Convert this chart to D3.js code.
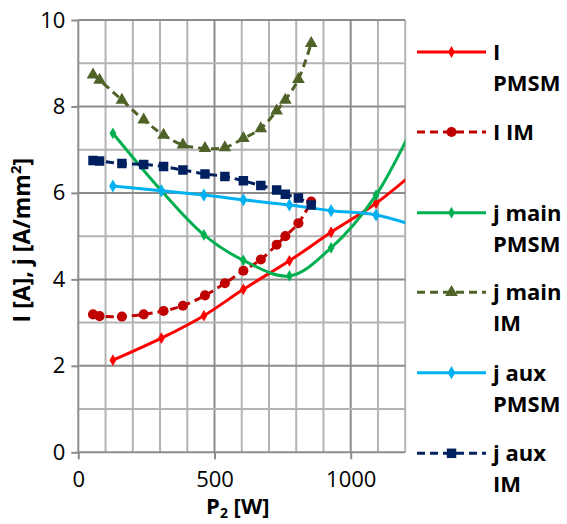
<!DOCTYPE html>
<html>
<head>
<meta charset="utf-8">
<script src="https://cdn.jsdelivr.net/npm/d3@7"></script>
<style>
  html, body { margin: 0; padding: 0; background: #fff; }
  svg { display: block; }
</style>
</head>
<body>
<svg id="chart" width="567" height="524"></svg>
<script>
// Output power P2 [W] at the measured operating points
const pPMSM = [127, 305, 461, 606, 775, 928, 1093, 1260];
const pIM = [54, 78, 160, 240, 313, 384, 465, 538, 606, 670, 728, 760, 808, 855];

// Current I [A]
const iPMSM = [2.13, 2.64, 3.16, 3.77, 4.43, 5.09, 5.76, 6.62];
const iIM = [3.19, 3.15, 3.14, 3.19, 3.27, 3.39, 3.63, 3.91, 4.20, 4.46, 4.80, 5.00, 5.30, 5.80];

// Current density j [A/mm²], main and auxiliary windings
const jMainPMSM = [7.38, 6.05, 5.03, 4.44, 4.08, 4.73, 5.95, 7.95];
const jMainIM = [8.73, 8.61, 8.15, 7.69, 7.34, 7.11, 7.03, 7.05, 7.26, 7.49, 7.90, 8.15, 8.63, 9.46];
const jAuxPMSM = [6.16, 6.05, 5.95, 5.84, 5.72, 5.59, 5.49, 5.19];
const jAuxIM = [6.75, 6.74, 6.68, 6.66, 6.61, 6.53, 6.44, 6.38, 6.28, 6.17, 6.07, 5.97, 5.88, 5.72];

const xTicks = [0, 500, 1000];
const yTicks = [0, 2, 4, 6, 8, 10];

const series = [
  { name: ["I", "PMSM"], x: pPMSM, y: iPMSM, color: "#ff0000", dash: null, marker: "diamond", size: 40 },
  { name: ["I IM"], x: pIM, y: iIM, color: "#c00000", dash: "8,5", marker: "circle", size: 80 },
  { name: ["j main", "PMSM"], x: pPMSM, y: jMainPMSM, color: "#00b050", dash: null, marker: "diamond", size: 40 },
  { name: ["j main", "IM"], x: pIM, y: jMainIM, color: "#4f6228", dash: "8,5", marker: "triangle", size: 70 },
  { name: ["j aux", "PMSM"], x: pPMSM, y: jAuxPMSM, color: "#00b0f0", dash: null, marker: "diamond", size: 50 },
  { name: ["j aux", "IM"], x: pIM, y: jAuxIM, color: "#002060", dash: "8,5", marker: "square", size: 90 }
];

const svg = d3.select("#chart");
const plot = { left: 78.3, right: 405.2, top: 20, bottom: 452.3 };

const x = d3.scaleLinear().domain([0, 1200]).range([plot.left, plot.right]);
const y = d3.scaleLinear().domain([0, 10]).range([plot.bottom, plot.top]);

const symbolTypes = {
  diamond: d3.symbolDiamond,
  circle: d3.symbolCircle,
  triangle: d3.symbolTriangle,
  square: d3.symbolSquare
};

// Gridlines: minor every 100 W / 1 unit, major every 500 W / 2 units
const grid = svg.append("g");
d3.range(100, 1201, 100).forEach(v => {
  grid.append("line")
    .attr("x1", x(v)).attr("x2", x(v))
    .attr("y1", plot.top).attr("y2", plot.bottom)
    .attr("stroke", v % 500 === 0 ? "#8c8c8c" : "#b4b4b4")
    .attr("stroke-width", 2);
});
d3.range(1, 11, 1).forEach(v => {
  grid.append("line")
    .attr("x1", plot.left).attr("x2", plot.right)
    .attr("y1", y(v)).attr("y2", y(v))
    .attr("stroke", v % 2 === 0 ? "#8c8c8c" : "#b4b4b4")
    .attr("stroke-width", 2);
});

// Axes
const yAxis = d3.axisLeft(y).tickValues(yTicks).tickFormat(d3.format("d")).tickSize(7).tickPadding(6);
const xAxis = d3.axisBottom(x).tickValues(xTicks).tickFormat(d3.format("d")).tickSize(7).tickPadding(12);

const gy = svg.append("g").attr("transform", `translate(${plot.left},0)`).call(yAxis);
const gx = svg.append("g").attr("transform", `translate(0,${plot.bottom})`).call(xAxis);
[gx, gy].forEach(g => {
  g.select(".domain").attr("stroke", "#8c8c8c").attr("stroke-width", 2);
  g.selectAll(".tick line").attr("stroke", "#8c8c8c").attr("stroke-width", 2);
  g.selectAll(".tick text")
    .attr("fill", "#000")
    .style("font-family", "'Open Sans', sans-serif")
    .style("font-size", "22px");
});
gx.select(".domain").attr("d", `M${plot.left},0H${plot.right}`);
gy.select(".domain").attr("d", `M0,${plot.top}V${plot.bottom}`);

// Axis titles
svg.append("text")
  .attr("x", (plot.left + plot.right) / 2 - 4)
  .attr("y", 514)
  .attr("text-anchor", "middle")
  .style("font-family", "'Open Sans', sans-serif")
  .style("font-weight", "bold")
  .style("font-size", "22px")
  .html('P<tspan font-size="14px" dy="4">2</tspan><tspan dy="-4"> [W]</tspan>');

svg.append("text")
  .attr("transform", `translate(30,${(plot.top + plot.bottom) / 2 + 4}) rotate(-90)`)
  .attr("text-anchor", "middle")
  .style("font-family", "'Open Sans', sans-serif")
  .style("font-weight", "bold")
  .style("font-size", "23px")
  .html('I [A], j [A/mm<tspan font-size="15px" dy="-9">2</tspan><tspan dy="9">]</tspan>');

// Series, clipped to the plot area
svg.append("clipPath").attr("id", "plotClip")
  .append("rect")
  .attr("x", plot.left).attr("y", plot.top)
  .attr("width", plot.right - plot.left).attr("height", plot.bottom - plot.top);

const plotG = svg.append("g").attr("clip-path", "url(#plotClip)");
const line = d3.line().curve(d3.curveCatmullRom.alpha(0.5));

series.forEach(s => {
  const pts = s.x.map((px, i) => [x(px), y(s.y[i])]);
  plotG.append("path")
    .attr("d", line(pts))
    .attr("fill", "none")
    .attr("stroke", s.color)
    .attr("stroke-width", 3)
    .attr("stroke-dasharray", s.dash);
  const sym = d3.symbol().type(symbolTypes[s.marker]).size(s.size);
  plotG.selectAll(null).data(pts).enter().append("path")
    .attr("d", sym)
    .attr("transform", d => `translate(${d[0]},${d[1]})`)
    .attr("fill", s.color);
});

// Legend
const legend = svg.append("g");
const legendRows = [52, 132, 212.7, 292.3, 372.7, 453.3];
series.forEach((s, i) => {
  const ly = legendRows[i];
  legend.append("line")
    .attr("x1", 417).attr("x2", 486)
    .attr("y1", ly).attr("y2", ly)
    .attr("stroke", s.color)
    .attr("stroke-width", 3)
    .attr("stroke-dasharray", s.dash);
  legend.append("path")
    .attr("d", d3.symbol().type(symbolTypes[s.marker]).size(s.size)())
    .attr("transform", `translate(451.5,${ly})`)
    .attr("fill", s.color);
  const t = legend.append("text")
    .attr("x", 493).attr("y", ly + 8)
    .style("font-family", "'Open Sans', sans-serif")
    .style("font-weight", "bold")
    .style("font-size", "22px")
    .attr("fill", "#000");
  s.name.forEach((line, k) => {
    t.append("tspan").attr("x", 493).attr("dy", k === 0 ? 0 : 31).text(line);
  });
});
</script>
</body>
</html>
